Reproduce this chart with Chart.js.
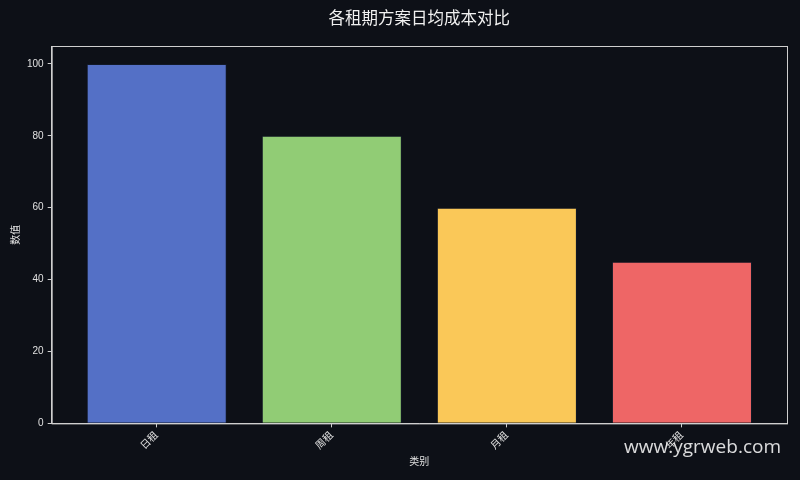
<!DOCTYPE html>
<html>
<head>
<meta charset="utf-8">
<script src="https://cdn.jsdelivr.net/npm/chart.js@4.4.0/dist/chart.umd.min.js"></script>
<style>
  html, body { margin: 0; padding: 0; background: #0d1017; overflow: hidden; }
</style>
</head>
<body>
<canvas id="barChart" width="800" height="480"></canvas>
<script>
const categories = ["日租", "周租", "月租", "年租"];
const values = [100, 80, 60, 45];
const barColors = ["#5470c6", "#91cc75", "#fac858", "#ee6666"];
const yTicks = [0, 20, 40, 60, 80, 100];

const FONT = "'Liberation Sans', 'Noto Sans CJK SC', sans-serif";
const chartTitle = "各租期方案日均成本对比";

// background, box around plot area, title over the plot, watermark
const bgPlugin = {
    id: "bg",
    beforeDraw(chart) {
        const ctx = chart.ctx;
        ctx.save();
        ctx.fillStyle = "#0d1017";
        ctx.fillRect(0, 0, chart.width, chart.height);
        ctx.restore();
    }
};

const framePlugin = {
    id: "frame",
    afterDraw(chart) {
        const ctx = chart.ctx;
        const a = chart.chartArea;
        ctx.save();
        ctx.strokeStyle = "#cfcfcf";
        ctx.lineWidth = 1;
        ctx.strokeRect(a.left + 0.5, a.top + 0.5, a.right - a.left, a.bottom - a.top);

        ctx.fillStyle = "#f0f0f0";
        ctx.font = "16.5px 'Noto Sans CJK SC', sans-serif";
        ctx.textAlign = "center";
        ctx.textBaseline = "middle";
        ctx.fillText(chartTitle, (a.left + a.right) / 2, 18);

        ctx.fillStyle = "rgba(255,255,255,0.85)";
        ctx.font = "19px 'Open Sans', sans-serif";
        ctx.textAlign = "right";
        ctx.fillText("www.ygrweb.com", 781, 448);
        ctx.restore();
    }
};

const ctx = document.getElementById("barChart").getContext("2d");
new Chart(ctx, {
    type: "bar",
    data: {
        labels: categories,
        datasets: [{
            label: "数值",
            data: values,
            backgroundColor: barColors,
            borderColor: "rgba(20,30,50,0.6)",
            borderWidth: 1,
            barPercentage: 0.8,
            categoryPercentage: 1
        }]
    },
    options: {
        responsive: false,
        animation: false,
        devicePixelRatio: 1,
        layout: { padding: { left: 10, right: 13, top: 46, bottom: 8 } },
        plugins: {
            legend: { display: false },
            tooltip: { enabled: false },
            title: { display: false }
        },
        scales: {
            x: {
                // widen the side margins a little (0.6 of a slot each side)
                afterBuildTicks(axis) {
                    axis._startValue = -0.6;
                    axis._valueRange = categories.length + 0.2;
                },
                grid: { display: true, offset: false, drawOnChartArea: false, drawTicks: true, tickLength: 4, color: "#cfcfcf" },
                border: { color: "#cfcfcf" },
                ticks: {
                    color: "#e0e0e0",
                    font: { family: FONT, size: 10 },
                    maxRotation: 45,
                    minRotation: 45,
                    padding: 2
                },
                title: {
                    display: true,
                    text: "类别",
                    color: "#e0e0e0",
                    font: { family: FONT, size: 10 },
                    padding: { top: 2, bottom: 4 }
                }
            },
            y: {
                min: 0,
                max: 105,
                afterBuildTicks(axis) {
                    axis.ticks = yTicks.map(v => ({ value: v }));
                },
                grid: { drawOnChartArea: false, drawTicks: true, tickLength: 4, color: "#cfcfcf" },
                border: { color: "#cfcfcf" },
                ticks: {
                    color: "#e0e0e0",
                    font: { family: FONT, size: 10 },
                    padding: 4
                },
                title: {
                    display: true,
                    text: "数值",
                    color: "#e0e0e0",
                    font: { family: FONT, size: 10 },
                    padding: { top: 0, bottom: 1 }
                }
            }
        }
    },
    plugins: [bgPlugin, framePlugin]
});
</script>
</body>
</html>
